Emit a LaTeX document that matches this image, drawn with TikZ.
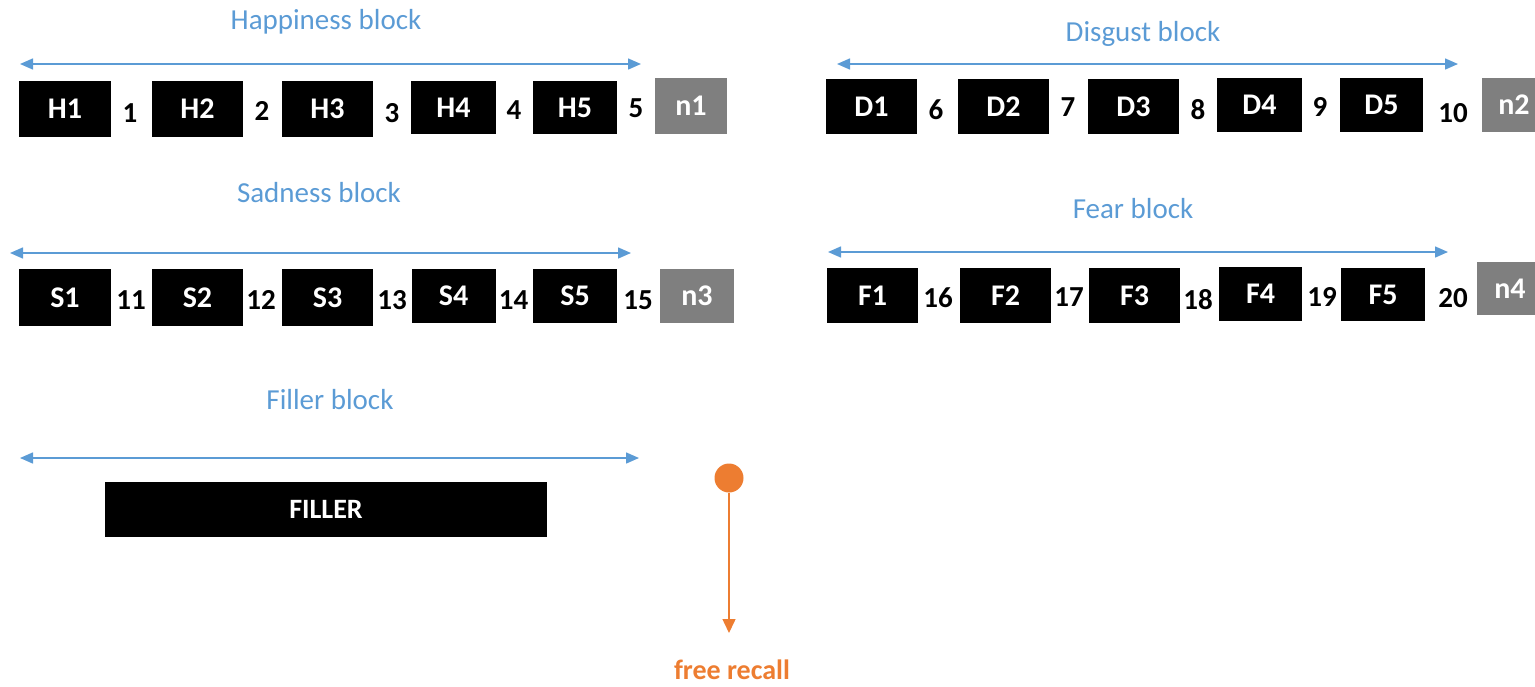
\documentclass[tikz,border=0pt]{standalone}
\usepackage{fontspec}
\setmainfont{Carlito}
\usetikzlibrary{arrows.meta}
\definecolor{lineblue}{HTML}{5B9BD5}
\definecolor{accent}{HTML}{ED7D31}
\definecolor{slotgray}{HTML}{7F7F7F}
\begin{document}
\begin{tikzpicture}[x=1pt,y=-1pt,
  trial/.style={fill=black,text=white,font=\fontsize{30}{34}\selectfont\bfseries,
    inner sep=0pt,minimum width=91pt,minimum height=55pt},
  pause/.style={fill=slotgray,text=white,font=\fontsize{30}{34}\selectfont\bfseries,
    inner sep=0pt,minimum width=70pt,minimum height=55pt},
  idx/.style={font=\fontsize{29}{33}\selectfont\bfseries,inner sep=0pt},
  title/.style={text=lineblue,font=\fontsize{29}{33}\selectfont,inner sep=0pt},
  span/.style={draw=lineblue,line width=1.5pt,
    {Triangle[length=13pt,width=11pt]}-{Triangle[length=13pt,width=11pt]}}]
\useasboundingbox (0,0) rectangle (1535,686);

% Happiness block
\node[title] (th) at (326,22) {Happiness block};
\coordinate (hl) at (20,64); \coordinate (hr) at (641,64);
\draw[span] (hl) -- (hr);
\node[trial,minimum width=92pt,minimum height=56pt] (H1) at (65,109) {H1};
\node[trial,minimum height=56pt] (H2) at (197.5,109) {H2};
\node[trial,minimum height=56pt] (H3) at (327.5,109) {H3};
\node[trial,minimum width=85pt,minimum height=53pt] (H4) at (453.5,107.5) {H4};
\node[trial,minimum width=84pt,minimum height=53pt] (H5) at (575,107.5) {H5};
\node[pause,minimum width=72pt,minimum height=56pt] (n1) at (691,106) {n1};
\node[idx] (i1) at (130,113) {1};
\node[idx] (i2) at (262,111) {2};
\node[idx] (i3) at (392,113) {3};
\node[idx] (i4) at (514,110) {4};
\node[idx] (i5) at (636,108) {5};

% Disgust block
\node[title] (td) at (1143,34) {Disgust block};
\coordinate (dl) at (837,64); \coordinate (dr) at (1458,64);
\draw[span] (dl) -- (dr);
\node[trial] (D1) at (871.5,106.5) {D1};
\node[trial] (D2) at (1003.5,106.5) {D2};
\node[trial] (D3) at (1133.5,106.5) {D3};
\node[trial,minimum width=85pt,minimum height=54pt] (D4) at (1259.5,105) {D4};
\node[trial,minimum width=83pt,minimum height=54pt] (D5) at (1381.5,105) {D5};
\node[pause,minimum width=64pt,minimum height=54pt] (n2) at (1514,105) {n2};
\node[idx] (i6) at (936,110) {6};
\node[idx] (i7) at (1068,107) {7};
\node[idx] (i8) at (1198,110) {8};
\node[idx] (i9) at (1320,107) {9};
\node[idx] (i10) at (1453,113) {10};

% Sadness block
\node[title] (ts) at (319,193) {Sadness block};
\coordinate (sl) at (10,253); \coordinate (sr) at (631,253);
\draw[span] (sl) -- (sr);
\node[trial,minimum width=92pt,minimum height=57pt] (S1) at (65,297.5) {S1};
\node[trial,minimum height=57pt] (S2) at (197.5,297.5) {S2};
\node[trial,minimum height=57pt] (S3) at (327.5,297.5) {S3};
\node[trial,minimum width=84pt,minimum height=54pt] (S4) at (453.5,296) {S4};
\node[trial,minimum width=84pt,minimum height=54pt] (S5) at (575,296) {S5};
\node[pause,minimum width=74pt,minimum height=54pt] (n3) at (697,296) {n3};
\node[idx] (i11) at (131,300) {11};
\node[idx] (i12) at (261,300) {12};
\node[idx] (i13) at (392,300) {13};
\node[idx] (i14) at (513.5,300) {14};
\node[idx] (i15) at (638,300) {15};

% Fear block
\node[title] (tf) at (1133,209) {Fear block};
\coordinate (fl) at (828,252); \coordinate (fr) at (1448,252);
\draw[span] (fl) -- (fr);
\node[trial] (F1) at (872.5,295.5) {F1};
\node[trial] (F2) at (1005.5,295.5) {F2};
\node[trial] (F3) at (1134.5,295.5) {F3};
\node[trial,minimum width=83pt,minimum height=54pt] (F4) at (1260.5,294) {F4};
\node[trial,minimum width=84pt,minimum height=53pt] (F5) at (1383,294.5) {F5};
\node[pause,minimum width=66pt,minimum height=53pt] (n4) at (1510,288.5) {n4};
\node[idx] (i16) at (938,298) {16};
\node[idx] (i17) at (1069,297) {17};
\node[idx] (i18) at (1198,300) {18};
\node[idx] (i19) at (1322,297) {19};
\node[idx] (i20) at (1453,298) {20};

% Filler block
\node[title] (tfi) at (330,400) {Filler block};
\coordinate (fil) at (20,458); \coordinate (fir) at (639,458);
\draw[span] (fil) -- (fir);
\node[trial,minimum width=442pt,font=\fontsize{28}{32}\selectfont\bfseries] (FILLER) at (326,509.5) {FILLER};

% Recall phase
\node[circle,fill=accent,inner sep=0pt,minimum size=29pt] (start) at (729,478) {};
\coordinate (stop) at (729,633);
\draw[accent,line width=1.5pt,-{Triangle[length=14pt,width=13pt]}] (start) -- (stop);
\node[text=accent,font=\fontsize{28}{32}\selectfont\bfseries,inner sep=0pt] (recall) at (732,670) {free recall};
\end{tikzpicture}
\end{document}
